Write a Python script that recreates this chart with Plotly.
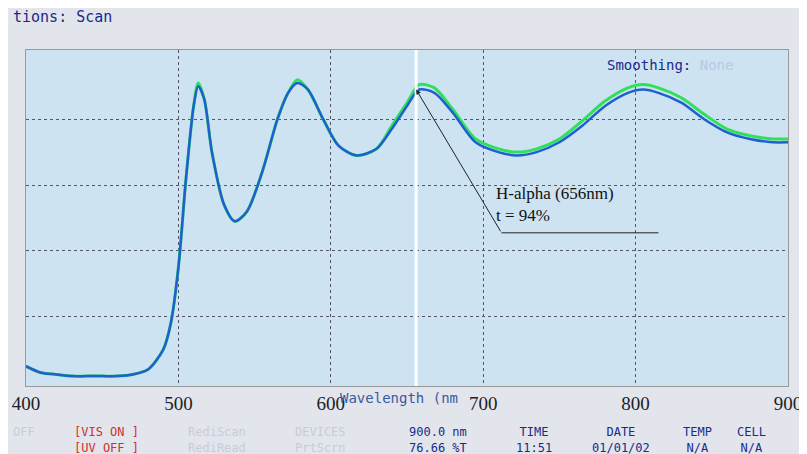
import plotly.graph_objects as go

wavelength = [400,410,420,430,440,450,460,470,480,490,495,500,505,510,513,517,522,530,537,545,555,565,572,578,585,595,605,617,630,640,650,658,668,680,695,710,722,735,750,765,780,795,805,815,830,845,860,875,890,900]
blue_T = [5,3,2.5,2,2,2,2,2.5,4,10,18,35,62,84,90,86,70,54,49,52,64,80,88,91,89,80,72,69,71,77,84,89,88,82,73,70,69,70,73,78,84,88,89,88,85,80,76,74,73,73]
green_T = [5,3,2.5,2,2,2,2,2.5,4,10,18,35,62,84,91,86,70,54,49,52,64,80,88,92,89,80,72,69,71,78,85,90.5,89.5,83,74,71,70,71,74,79.5,85.5,89.5,90.5,89.5,86.5,81.5,77,75,74,74]
x_ticks = [400,500,600,700,800,900]
y_grid = [20,40,60,80]

fig = go.Figure()
fig.add_trace(go.Scatter(x=wavelength, y=green_T, mode="lines", line=dict(color="#2ee05a", width=3, shape="spline", smoothing=0.8)))
fig.add_trace(go.Scatter(x=wavelength, y=blue_T, mode="lines", line=dict(color="#1f5fd0", width=2.5, shape="spline", smoothing=0.8)))

fig.add_shape(type="line", x0=656, x1=656, y0=-1, y1=101, line=dict(color="white", width=3))
fig.add_shape(type="line", x0=712, x1=815, y0=45.5, y1=45.5, line=dict(color="#222", width=1))
fig.add_annotation(x=656, y=89, ax=712, ay=45.5, axref="x", ayref="y", showarrow=True,
                   arrowhead=2, arrowwidth=1, arrowcolor="#222", text="")
fig.add_annotation(x=707, y=54, xanchor="left", showarrow=False, align="left",
                   text="H-alpha (656nm)<br>t = 94%", font=dict(family="Liberation Serif", size=17, color="#111"))

mono = "DejaVu Sans Mono"
fig.add_annotation(xref="paper", yref="paper", x=-0.02, y=1.13, xanchor="left", showarrow=False,
                   text="tions: Scan", font=dict(family=mono, size=15, color="#1a2a8a"))
fig.add_annotation(xref="paper", yref="paper", x=0.93, y=0.985, xanchor="right", showarrow=False,
                   text="Smoothing: <span style='color:#b8c8e0'>None</span>", font=dict(family=mono, size=14, color="#1a2a8a"))
fig.add_annotation(xref="paper", yref="paper", x=0.41, y=-0.005, xanchor="left", yanchor="top", showarrow=False,
                   text="Wavelength (nm", font=dict(family=mono, size=14, color="#3a5aa0"))
status = [(-0.02,"<br>OFF","#c8ccd8"),(0.06,"[VIS ON ]<br>[UV OFF ]","#d03030"),(0.21,"RediScan<br>RediRead","#c8ccd8"),(0.35,"DEVICES<br>PrtScrn","#c8ccd8"),
          (0.5,"900.0 nm<br>76.66 %T","#1a2a8a"),(0.64,"TIME<br>11:51","#1a2a8a"),(0.74,"DATE<br>01/01/02","#1a2a8a"),
          (0.86,"TEMP<br>N/A","#1a2a8a"),(0.93,"CELL<br>N/A","#1a2a8a")]
for x, t, c in status:
    fig.add_annotation(xref="paper", yref="paper", x=x, y=-0.11, xanchor="left", yanchor="top", showarrow=False, align="center",
                       text=t, font=dict(family=mono, size=12, color=c))

fig.update_layout(
    width=807, height=454, showlegend=False,
    margin=dict(l=18, r=27, t=42, b=76, autoexpand=False),
    paper_bgcolor="#e2e5ec", plot_bgcolor="#cde3f1",
    xaxis=dict(range=[400,900], tickvals=x_ticks, showgrid=True, gridcolor="#556", griddash="dot", automargin=False,
               tickfont=dict(family="Liberation Serif", size=19, color="#222"), zeroline=False,
               showline=True, linecolor="#999", mirror=True),
    yaxis=dict(range=[-1,101], tickvals=y_grid, showticklabels=False, showgrid=True, gridcolor="#556", automargin=False,
               griddash="dot", zeroline=False, showline=True, linecolor="#999", mirror=True),
)
fig.write_html("out.html")
